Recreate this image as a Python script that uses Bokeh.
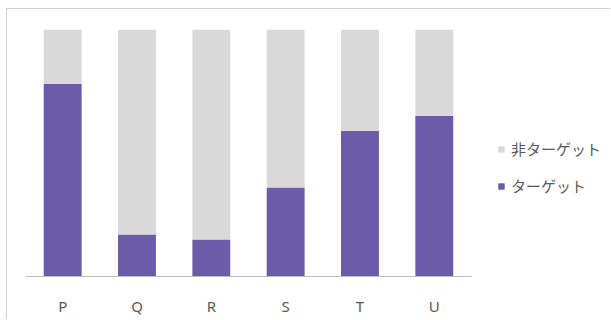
from bokeh.plotting import figure
from bokeh.models import ColumnDataSource, Range1d, Legend, LegendItem, FixedTicker
from bokeh.embed import file_html
from bokeh.resources import INLINE

categories = ["P", "Q", "R", "S", "T", "U"]
target = [78, 17, 15, 36, 59, 65]
non_target = [22, 83, 85, 64, 41, 35]
series_names = ["ターゲット", "非ターゲット"]
colors = ["#6B5BA8", "#D9D9D9"]

xpos = list(range(len(categories)))
source = ColumnDataSource(dict(x=xpos, target=target, non_target=non_target))

p = figure(
    x_range=Range1d(-0.5, 7.33),
    y_range=Range1d(0, 100),
    width=604, height=311,
    output_backend="svg", toolbar_location=None,
    y_axis_location=None,
    min_border_left=18, min_border_right=4,
    min_border_top=20, min_border_bottom=44,
)
p.margin = (8, 0, 0, 6)
p.styles = {"border-top": "1px solid #D0D0D0", "border-left": "1px solid #D0D0D0"}
p.outline_line_color = None
p.background_fill_color = "white"
p.border_fill_color = "white"
p.grid.visible = False

renderers = p.vbar_stack(["target", "non_target"], x="x", width=0.51,
                         color=colors, line_color=None, source=source)

p.xaxis.ticker = FixedTicker(ticks=xpos)
p.xaxis.major_label_overrides = {i: c for i, c in zip(xpos, categories)}
p.xaxis.bounds = (-0.5, len(categories) - 0.5)
p.xaxis.axis_line_color = "#BFBFBF"
p.xaxis.axis_line_width = 1
p.xaxis.major_tick_line_color = None
p.xaxis.minor_tick_line_color = None
p.xaxis.major_label_text_font = "Noto Sans"
p.xaxis.major_label_text_font_size = "15px"
p.xaxis.major_label_text_color = "#595959"
p.xaxis.major_label_standoff = 13

legend = Legend(
    items=[LegendItem(label=series_names[1], renderers=[renderers[1]]),
           LegendItem(label=series_names[0], renderers=[renderers[0]])],
    location=(472, 80),
    padding=0, margin=0, spacing=16,
    glyph_width=8, glyph_height=8, label_height=20, label_standoff=6,
    label_text_font="Noto Sans CJK JP", label_text_font_size="15px",
    label_text_color="#595959",
    border_line_color=None, background_fill_alpha=0,
)
p.add_layout(legend, "center")

open("out.html", "w").write(file_html(p, INLINE))
